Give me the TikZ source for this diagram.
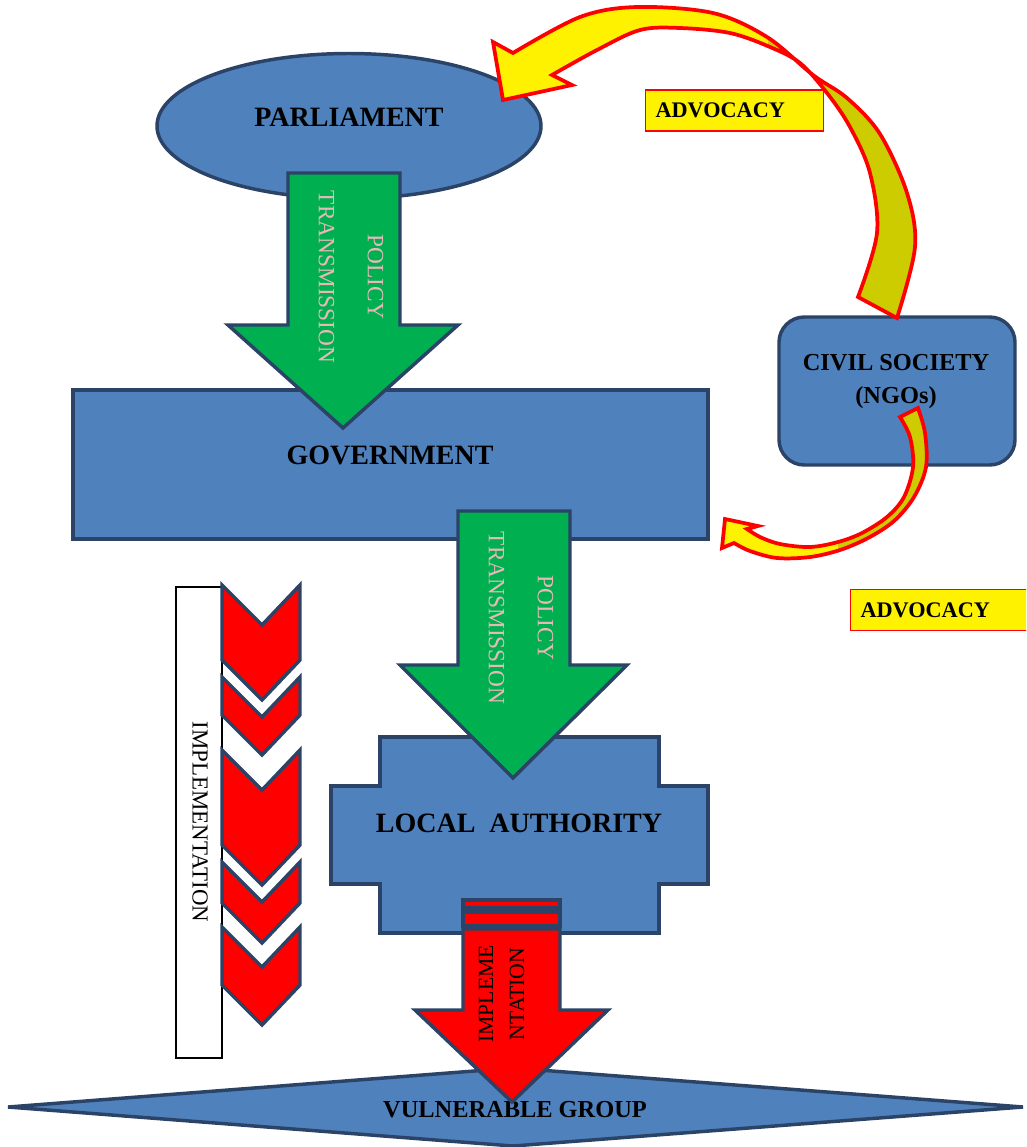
\documentclass[tikz,border=0pt]{standalone}
\usepackage{fontspec}
\setmainfont{Liberation Serif}
\usetikzlibrary{shapes.geometric}
\definecolor{shapeblue}{HTML}{4F81BD}
\definecolor{edgeblue}{HTML}{2A4366}
\definecolor{arrowgreen}{HTML}{00B050}
\definecolor{pinktext}{HTML}{E6B9B8}
\definecolor{olive}{HTML}{CCCC00}
\tikzset{
  blueshape/.style={fill=shapeblue, draw=edgeblue, line width=2.6pt, line join=miter},
  greenarrow/.style={fill=arrowgreen, draw=edgeblue, line width=2.6pt},
  redshape/.style={fill=red, draw=edgeblue, line width=2.6pt},
  curvearrow/.style={draw=red, line width=2.8pt, line join=miter},
  advbox/.style={fill=yellow, draw=red, line width=0.8pt, anchor=west,
     minimum width=133.5pt, minimum height=30.75pt, inner xsep=7.5pt,
     text width=118.5pt, align=left, font=\fontsize{16.7}{20}\selectfont\bfseries},
  bigtext/.style={font=\fontsize{21}{25}\selectfont\bfseries},
  policytext/.style={rotate=-90, align=center, text=pinktext,
     font=\fontsize{17.5}{36.75}\selectfont},
}
\begin{document}
\begin{tikzpicture}[x=0.75pt,y=-0.75pt]
\useasboundingbox (0,0) rectangle (1026,1147);
\begin{scope}
\clip (0,0) rectangle (1026,1147);

% Parliament
\node[ellipse, blueshape, minimum width=288pt, minimum height=108.75pt] (parl) at (349,126) {};
\node[bigtext] (parltext) at (349,117) {PARLIAMENT};

% Government
\node[rectangle, blueshape, minimum width=476.25pt, minimum height=111.75pt] (gov) at (390.5,464.5) {};
\node[bigtext] (govtext) at (390,455) {GOVERNMENT};

% Green arrow 1
\path[greenarrow] (288,173) -- (400,173) -- (400,325) -- (458,325) -- (343,428) -- (228,325) -- (288,325) -- cycle;
\node[policytext] (pol1) at (351,277) {POLICY\\TRANSMISSION};

% Civil society
\node[rectangle, rounded corners=19pt, blueshape, minimum width=177pt, minimum height=111pt] (cs) at (897,391) {};
\node[align=center, font=\fontsize{18.3}{24.75}\selectfont\bfseries] (cstext) at (896,382) {CIVIL SOCIETY\\(NGOs)};

% Local authority
\path[blueshape] (380,737) -- (659,737) -- (659,786) -- (708,786) -- (708,884) -- (659,884) -- (659,933) -- (380,933) -- (380,884) -- (331,884) -- (331,786) -- (380,786) -- cycle;
\node[bigtext] (latext) at (519,823) {LOCAL\ \ AUTHORITY};

% Green arrow 2
\path[greenarrow] (458,511) -- (570,511) -- (570,665) -- (627,665) -- (513,778) -- (400,665) -- (458,665) -- cycle;
\node[policytext] (pol2) at (521,618) {POLICY\\TRANSMISSION};

% Vulnerable group
\path[blueshape] (8,1107) -- (513,1068) -- (1023,1107) -- (513,1146) -- cycle;
\node[font=\fontsize{18.3}{22}\selectfont\bfseries] (vgtext) at (515,1110) {VULNERABLE GROUP};

% Red striped arrow
\path[redshape] (463,900) rectangle (560,908);
\path[redshape] (463,912) rectangle (560,926);
\path[redshape] (463,929) -- (560,929) -- (560,1010) -- (608,1010) -- (512,1102) -- (415,1010) -- (463,1010) -- cycle;
\node[rotate=90, align=center, font=\fontsize{16.3}{23.25}\selectfont] (impl2) at (501.5,994) {IMPLEME\\NTATION};

% Implementation bar
\path[fill=white, draw=black, line width=1.1pt] (176,587) rectangle (222,1058);
\node[rotate=-90, font=\fontsize{17.2}{20}\selectfont] (impl1) at (200,822) {IMPLEMENTATION};

% Chevrons
\foreach \t/\h in {585/75, 677/38, 750/95, 862/41, 927/58} {
  \path[redshape] (222,\t) -- (262,\t+40) -- (300,\t) -- (300,\t+\h) -- (262,\t+\h+40) -- (222,\t+\h) -- cycle;
}

% Big advocacy arrow (civil society -> parliament)
\def\bigarrow{plot[smooth, tension=0.55] coordinates {(513,53) (580,17) (637,7) (713,13) (767,37) (813,75) (847,98) (880,134) (907,193) (915,247) (897,318)}
  -- plot[smooth, tension=0.55] coordinates {(858,297) (877,233) (870,173) (850,127) (827,93) (800,63) (770,47) (730,33) (680,28) (640,30) (597,50) (552,75)}
  -- (572,85) -- (503,100) -- (493,42) -- cycle}
\fill[yellow] \bigarrow;
\begin{scope}
  \clip \bigarrow;
  \fill[olive] (768,0) rectangle (1026,400);
\end{scope}
\path[curvearrow] \bigarrow;

% Small advocacy arrow (civil society -> government)
\def\smallarrow{plot[smooth, tension=0.55] coordinates {(918,408) (925,433) (926,467) (914,497) (894,521) (868,538) (840,550) (810,557) (777,558) (750,551) (734,543)}
  -- (722,548) -- (725,519) -- (758,526)
  -- plot[smooth, tension=0.55] coordinates {(747,529) (760,537) (780,544) (810,547) (838,542) (862,533) (887,517) (904,497) (913,467) (910,437) (900,417)} -- cycle}
\fill[yellow] \smallarrow;
\begin{scope}
  \clip \smallarrow;
  \fill[olive] (838,400) rectangle (1026,600);
\end{scope}
\path[curvearrow] \smallarrow;

% Advocacy labels
\node[advbox] (adv1) at (645,110.5) {ADVOCACY};
\node[advbox] (adv2) at (850,610) {ADVOCACY};
\end{scope}
\end{tikzpicture}
\end{document}
